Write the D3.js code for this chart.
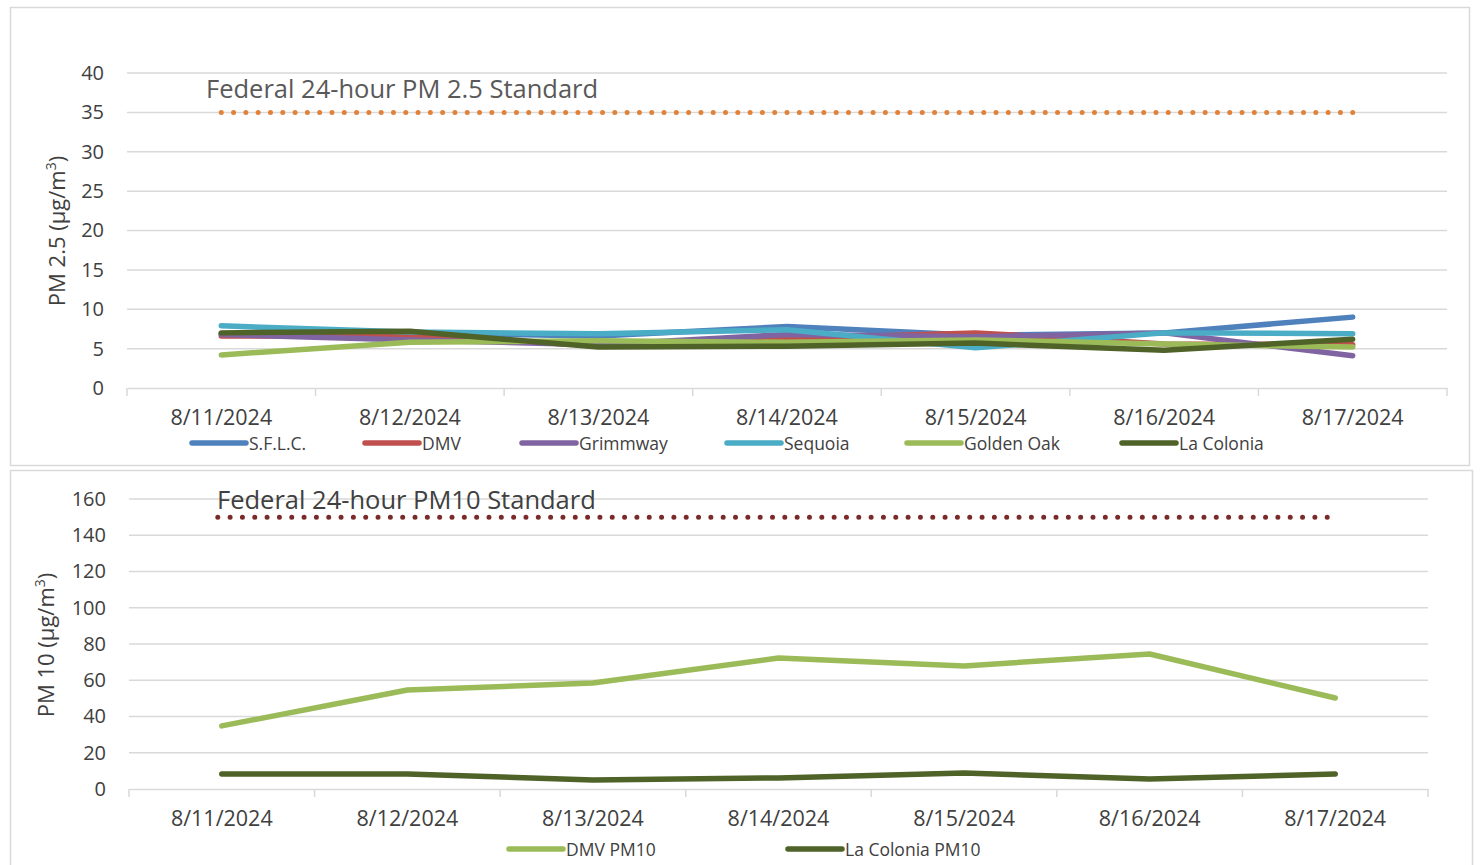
<!DOCTYPE html>
<html>
<head>
<meta charset="utf-8">
<script src="https://cdn.jsdelivr.net/npm/d3@7"></script>
<style>
  body { margin: 0; background: #fff; }
  svg { display: block; font-family: "Open Sans", "Noto Sans", sans-serif; }
</style>
</head>
<body>
<div id="chart"></div>
<script>
const dates = ["8/11/2024", "8/12/2024", "8/13/2024", "8/14/2024", "8/15/2024", "8/16/2024", "8/17/2024"];

// PM 2.5 daily averages
const sflc      = [6.9, 7.0, 6.6, 7.8, 6.7, 7.0, 9.0];
const dmv       = [6.6, 6.6, 5.4, 6.3, 7.0, 5.6, 5.5];
const grimmway  = [6.8, 6.1, 5.5, 6.8, 6.5, 7.0, 4.1];
const sequoia   = [7.9, 7.1, 6.9, 7.4, 5.1, 7.0, 6.9];
const goldenOak = [4.2, 5.8, 6.0, 5.8, 6.1, 5.6, 5.2];
const laColonia = [7.0, 7.2, 5.2, 5.3, 5.7, 4.8, 6.2];

// PM 10 daily averages
const dmvPm10       = [34.8, 54.6, 58.5, 72.3, 67.9, 74.5, 50.2];
const laColoniaPm10 = [8.3, 8.3, 5.0, 6.1, 8.8, 5.5, 8.3];

const pm25Ticks = [0, 5, 10, 15, 20, 25, 30, 35, 40];
const pm10Ticks = [0, 20, 40, 60, 80, 100, 120, 140, 160];
const pm25Standard = 35;
const pm10Standard = 150;

const pm25Series = [
  { name: "S.F.L.C.", values: sflc, color: "#4F81BD" },
  { name: "DMV", values: dmv, color: "#C0504D" },
  { name: "Grimmway", values: grimmway, color: "#8064A2" },
  { name: "Sequoia", values: sequoia, color: "#4BACC6" },
  { name: "Golden Oak", values: goldenOak, color: "#9BBB59" },
  { name: "La Colonia", values: laColonia, color: "#4F6228" }
];
const pm10Series = [
  { name: "DMV PM10", values: dmvPm10, color: "#9BBB59" },
  { name: "La Colonia PM10", values: laColoniaPm10, color: "#4F6228" }
];

const svg = d3.select("#chart").append("svg")
  .attr("width", 1480).attr("height", 865);

// panel frames
svg.append("rect").attr("x", 10.5).attr("y", 7.5).attr("width", 1459).attr("height", 458)
  .attr("fill", "none").attr("stroke", "#d9d9d9").attr("stroke-width", 1.5);
svg.append("rect").attr("x", 10.5).attr("y", 470.5).attr("width", 1462).attr("height", 400)
  .attr("fill", "none").attr("stroke", "#d9d9d9").attr("stroke-width", 1.5);

function drawPanel(cfg) {
  const x = d3.scaleBand().domain(dates).range([cfg.left, cfg.right]).padding(0);
  const y = d3.scaleLinear().domain([cfg.ticks[0], cfg.ticks[cfg.ticks.length - 1]])
    .range([cfg.bottom, cfg.top]);
  const g = svg.append("g");

  // gridlines
  g.selectAll(".grid").data(cfg.ticks.slice(1)).enter().append("line")
    .attr("x1", cfg.left).attr("x2", cfg.right)
    .attr("y1", d => y(d)).attr("y2", d => y(d))
    .attr("stroke", "#d9d9d9").attr("stroke-width", 1.5);

  // y axis labels
  const yAxis = d3.axisLeft(y).tickValues(cfg.ticks).tickSize(0).tickPadding(0);
  const ya = g.append("g").attr("transform", `translate(${cfg.left - 23},0)`).call(yAxis);
  ya.select(".domain").remove();
  ya.selectAll("text").attr("fill", "#404040").style("font-size", "20px")
    .style("font-family", "'Open Sans', sans-serif");

  // x axis with tick marks between categories
  const xAxis = d3.axisBottom(x).tickSize(0).tickPadding(22);
  const xa = g.append("g").attr("transform", `translate(0,${cfg.bottom})`).call(xAxis);
  xa.select(".domain").attr("stroke", "#d9d9d9").attr("stroke-width", 1.5);
  xa.selectAll("text").attr("fill", "#404040").style("font-size", "21.5px")
    .style("font-family", "'Open Sans', sans-serif");
  const edges = dates.map(d => x(d)).concat([cfg.right]);
  g.selectAll(".xtick").data(edges).enter().append("line")
    .attr("x1", d => d).attr("x2", d => d)
    .attr("y1", cfg.bottom).attr("y2", cfg.bottom + 8)
    .attr("stroke", "#d9d9d9").attr("stroke-width", 1.5);

  const cx = d => x(d) + x.bandwidth() / 2;

  // standard line (round dots)
  const x1 = cx(dates[0]) + cfg.stdInset[0];
  const x2 = cx(dates[dates.length - 1]) - cfg.stdInset[1];
  const nDots = Math.round((x2 - x1) / 12.3);
  g.append("line")
    .attr("x1", x1).attr("x2", x2 + 1)
    .attr("y1", y(cfg.standard)).attr("y2", y(cfg.standard))
    .attr("stroke", cfg.stdColor).attr("stroke-width", 5)
    .attr("stroke-linecap", "round").attr("stroke-dasharray", `0 ${(x2 - x1) / nDots}`);
  g.append("text")
    .attr("x", cfg.stdLabelX).attr("y", cfg.stdLabelY)
    .attr("fill", cfg.stdLabelColor).style("font-size", "25.5px")
    .text(cfg.stdLabel);

  // series lines
  const line = d3.line().x((v, i) => cx(dates[i])).y(v => y(v));
  g.selectAll(".series").data(cfg.series).enter().append("path")
    .attr("d", s => line(s.values))
    .attr("fill", "none").attr("stroke", s => s.color).attr("stroke-width", 5.5)
    .attr("stroke-linecap", "round").attr("stroke-linejoin", "round");

  // y axis title
  const t = g.append("text")
    .attr("transform", `translate(${cfg.titleX},${cfg.titleY}) rotate(-90)`)
    .attr("text-anchor", "middle").attr("fill", "#404040").style("font-size", "22px");
  t.append("tspan").text(cfg.yTitle);
  t.append("tspan").attr("dy", -9).style("font-size", "14px").text("3");
  t.append("tspan").attr("dy", 9).text(")");

  // legend
  const lg = g.selectAll(".legend").data(cfg.series).enter().append("g")
    .attr("transform", (s, i) => `translate(${cfg.legendX[i]},${cfg.legendY})`);
  lg.append("line").attr("x1", 0).attr("x2", 54).attr("y1", 0).attr("y2", 0)
    .attr("stroke", s => s.color).attr("stroke-width", 5.5).attr("stroke-linecap", "round");
  lg.append("text").attr("x", 57).attr("y", 6.5).attr("fill", "#404040")
    .style("font-size", "17.5px")
    .style("font-family", "'Open Sans', sans-serif")
    .text(s => s.name);
}

drawPanel({
  left: 127, right: 1447, top: 73, bottom: 388,
  ticks: pm25Ticks, standard: pm25Standard, series: pm25Series,
  stdColor: "#E0823A", stdInset: [0, 0],
  stdLabel: "Federal 24-hour PM 2.5 Standard", stdLabelX: 206, stdLabelY: 98, stdLabelColor: "#595959",
  yTitle: "PM 2.5 (µg/m", titleX: 65, titleY: 231,
  legendX: [192, 365, 522, 727, 907, 1122], legendY: 443
});

drawPanel({
  left: 129, right: 1428, top: 499, bottom: 789,
  ticks: pm10Ticks, standard: pm10Standard, series: pm10Series,
  stdColor: "#7B2A2A", stdInset: [-4, 8],
  stdLabel: "Federal 24-hour PM10 Standard", stdLabelX: 217, stdLabelY: 509, stdLabelColor: "#404040",
  yTitle: "PM 10 (µg/m", titleX: 54, titleY: 645,
  legendX: [509, 788], legendY: 849
});
</script>
</body>
</html>
